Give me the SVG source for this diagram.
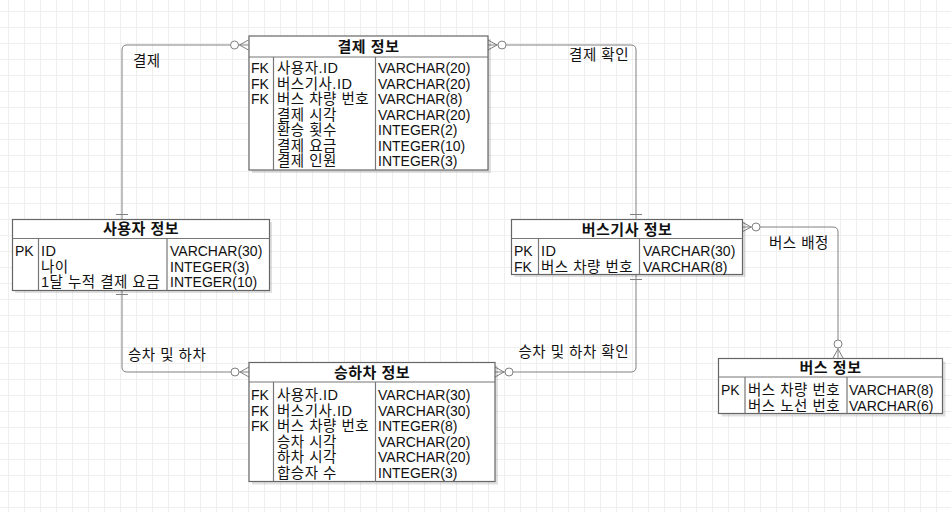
<svg xmlns="http://www.w3.org/2000/svg" xmlns:xlink="http://www.w3.org/1999/xlink" width="951" height="512" viewBox="0 0 951 512">
<style>
text{font-family:"Liberation Sans","Noto Sans CJK KR",sans-serif;font-size:14px;fill:#111}
.k{font-size:14.5px;letter-spacing:0.5px}
.h{font-weight:bold;text-anchor:middle;font-size:15px;letter-spacing:0.5px}
.e{text-anchor:end}
.box{fill:#fff;stroke:#666;stroke-width:1.2}
.shd{fill:#000;opacity:0.12}
.ln{fill:none;stroke:#777;stroke-width:1.2}
.conn{fill:none;stroke:#808080;stroke-width:1}
.zm circle{fill:#fff;stroke:#808080;stroke-width:1}
</style>
<defs>
<pattern id="grid" x="8" y="11" width="16" height="16" patternUnits="userSpaceOnUse">
<path d="M0 0.5H16M0.5 0V16" stroke="#efefef" stroke-width="1.2" fill="none"/>
</pattern>
<g id="zm" class="zm">
<path d="M-10 0H0M-9 0L0-5M-9 0L0 5" fill="none" stroke="#808080" stroke-width="1"/>
<circle cx="-14" cy="0" r="4"/>
</g>
</defs>
<rect width="951" height="512" fill="#fff"/>
<rect width="951" height="512" fill="url(#grid)"/>

<g id="connectors">
<path class="conn" d="M122 219V50Q122 45 127 45H230"/>
<path class="conn" d="M506 45H631Q636 45 636 50V219"/>
<path class="conn" d="M122 290V367Q122 372 127 372H231"/>
<path class="conn" d="M513 372H631Q636 372 636 367V274"/>
<path class="conn" d="M760 227H833Q838 227 838 232V340"/>
<path class="conn" d="M116 214.5H128M116 294.5H128M630 214.5H642M630 279.5H642"/>
<use xlink:href="#zm" transform="translate(248.5,45)"/>
<use xlink:href="#zm" transform="translate(488,45) rotate(180)"/>
<use xlink:href="#zm" transform="translate(249,372)"/>
<use xlink:href="#zm" transform="translate(495,372) rotate(180)"/>
<use xlink:href="#zm" transform="translate(742,227) rotate(180)"/>
<use xlink:href="#zm" transform="translate(838,358) rotate(90)"/>
<text class="k" x="133" y="66">결제</text>
<text class="k e" x="629" y="60">결제 확인</text>
<text class="k" x="128" y="360">승차 및 하차</text>
<text class="k e" x="629" y="357">승차 및 하차 확인</text>
<text class="k" x="769" y="248">버스 배정</text>
</g>

<g id="payment">
<rect class="shd" x="252" y="39" width="239" height="134"/>
<rect class="box" x="249" y="36" width="239" height="134"/>
<path class="ln" d="M249 57H488M273.5 57V170M375.5 57V170"/>
<text class="h" x="368.5" y="51.5">결제 정보</text>
<text x="251" y="73">FK</text><text class="k" x="277" y="73">사용자.ID</text><text x="378" y="73">VARCHAR(20)</text>
<text x="251" y="88.5">FK</text><text class="k" x="277" y="88.5">버스기사.ID</text><text x="378" y="88.5">VARCHAR(20)</text>
<text x="251" y="104">FK</text><text class="k" x="277" y="104">버스 차량 번호</text><text x="378" y="104">VARCHAR(8)</text>
<text class="k" x="277" y="119.5">결제 시각</text><text x="378" y="119.5">VARCHAR(20)</text>
<text class="k" x="277" y="135">환승 횟수</text><text x="378" y="135">INTEGER(2)</text>
<text class="k" x="277" y="150.5">결제 요금</text><text x="378" y="150.5">INTEGER(10)</text>
<text class="k" x="277" y="166">결제 인원</text><text x="378" y="166">INTEGER(3)</text>
</g>

<g id="user">
<rect class="shd" x="15" y="222" width="257" height="71"/>
<rect class="box" x="12.5" y="219.5" width="257" height="71"/>
<path class="ln" d="M12.5 238.5H269.5M38.5 238.5V290.5M167 238.5V290.5"/>
<text class="h" x="141" y="234">사용자 정보</text>
<text x="15" y="256">PK</text><text class="k" x="41" y="256">ID</text><text x="170" y="256">VARCHAR(30)</text>
<text class="k" x="41" y="271.5">나이</text><text x="170" y="271.5">INTEGER(3)</text>
<text class="k" x="41" y="287">1달 누적 결제 요금</text><text x="170" y="287">INTEGER(10)</text>
</g>

<g id="driver">
<rect class="shd" x="514.5" y="222" width="231" height="55"/>
<rect class="box" x="511.5" y="219.5" width="231" height="55"/>
<path class="ln" d="M511.5 238.5H742.5M538.5 238.5V274.5M639.5 238.5V274.5"/>
<text class="h" x="627" y="234.5">버스기사 정보</text>
<text x="514" y="256">PK</text><text class="k" x="541" y="256">ID</text><text x="643" y="256">VARCHAR(30)</text>
<text x="514" y="271.5">FK</text><text class="k" x="541" y="271.5">버스 차량 번호</text><text x="643" y="271.5">VARCHAR(8)</text>
</g>

<g id="bus">
<rect class="shd" x="721.5" y="361.5" width="224" height="55"/>
<rect class="box" x="718.5" y="358.5" width="224" height="55"/>
<path class="ln" d="M718.5 377H942.5M745 377V413.5M847 377V413.5"/>
<text class="h" x="830.5" y="373">버스 정보</text>
<text x="721" y="395">PK</text><text class="k" x="748" y="395">버스 차량 번호</text><text x="849" y="395">VARCHAR(8)</text>
<text class="k" x="748" y="410.5">버스 노선 번호</text><text x="849" y="410.5">VARCHAR(6)</text>
</g>

<g id="boarding">
<rect class="shd" x="252" y="365.5" width="246" height="119"/>
<rect class="box" x="249" y="362.5" width="246" height="119"/>
<path class="ln" d="M249 382H495M273.5 382V481.5M375.5 382V481.5"/>
<text class="h" x="372" y="377.5">승하차 정보</text>
<text x="251" y="400">FK</text><text class="k" x="277" y="400">사용자.ID</text><text x="378" y="400">VARCHAR(30)</text>
<text x="251" y="415.5">FK</text><text class="k" x="277" y="415.5">버스기사.ID</text><text x="378" y="415.5">VARCHAR(30)</text>
<text x="251" y="431">FK</text><text class="k" x="277" y="431">버스 차량 번호</text><text x="378" y="431">INTEGER(8)</text>
<text class="k" x="277" y="446.5">승차 시각</text><text x="378" y="446.5">VARCHAR(20)</text>
<text class="k" x="277" y="462">하차 시각</text><text x="378" y="462">VARCHAR(20)</text>
<text class="k" x="277" y="477.5">합승자 수</text><text x="378" y="477.5">INTEGER(3)</text>
</g>
</svg>
